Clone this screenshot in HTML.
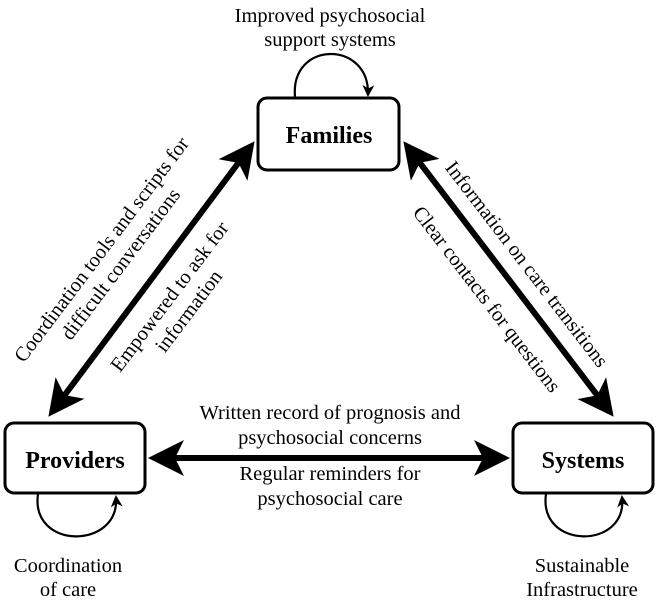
<!DOCTYPE html>
<html><head><meta charset="utf-8"><style>
html,body{margin:0;padding:0;background:#fff;}
svg{display:block;}
text{font-family:"Liberation Serif",serif;fill:#000;}
</style></head><body>
<svg width="656" height="607" viewBox="0 0 656 607" xmlns="http://www.w3.org/2000/svg">
<defs>
<marker id="big" markerWidth="6" markerHeight="6" refX="5" refY="3" orient="auto-start-reverse" markerUnits="strokeWidth">
<path d="M0,0 L6,3 L0,6 L1.5,3 z" fill="#000"/>
</marker>
<marker id="sm" markerWidth="12" markerHeight="12" refX="10" refY="6" orient="auto" markerUnits="userSpaceOnUse">
<path d="M0,0 L12,6 L0,12 L3.5,6 z" fill="#000"/>
</marker>
</defs>
<!-- boxes -->
<rect x="258" y="98" width="141" height="72" rx="9" fill="#fff" stroke="#000" stroke-width="3"/>
<rect x="5" y="423" width="140" height="70" rx="9" fill="#fff" stroke="#000" stroke-width="3"/>
<rect x="513" y="423" width="140" height="70" rx="9" fill="#fff" stroke="#000" stroke-width="3"/>
<text x="329" y="143" font-size="24" font-weight="bold" text-anchor="middle">Families</text>
<text x="75" y="468" font-size="24" font-weight="bold" text-anchor="middle">Providers</text>
<text x="583" y="468" font-size="24" font-weight="bold" text-anchor="middle">Systems</text>
<!-- main arrows -->
<line x1="52" y1="412" x2="251" y2="146" stroke="#000" stroke-width="6" marker-start="url(#big)" marker-end="url(#big)"/>
<line x1="407" y1="146" x2="610" y2="412" stroke="#000" stroke-width="6" marker-start="url(#big)" marker-end="url(#big)"/>
<line x1="154" y1="458" x2="504" y2="458" stroke="#000" stroke-width="6" marker-start="url(#big)" marker-end="url(#big)"/>
<!-- loops -->
<path d="M295,97 C290,40 370,40 368,95" fill="none" stroke="#000" stroke-width="2.2" marker-end="url(#sm)"/>
<path d="M38,494 C30,550 120,550 116,497" fill="none" stroke="#000" stroke-width="2.2" marker-end="url(#sm)"/>
<path d="M546,494 C538,550 628,550 622,497" fill="none" stroke="#000" stroke-width="2.2" marker-end="url(#sm)"/>
<!-- labels -->
<g font-size="20.5" text-anchor="middle">
<text x="330" y="22">Improved psychosocial</text>
<text x="330" y="46">support systems</text>
<text x="330" y="419">Written record of prognosis and</text>
<text x="330" y="444">psychosocial concerns</text>
<text x="330" y="480">Regular reminders for</text>
<text x="330" y="505">psychosocial care</text>
<text x="68" y="572">Coordination</text>
<text x="68" y="596">of care</text>
<text x="582" y="572">Sustainable</text>
<text x="582" y="596">Infrastructure</text>
<g transform="translate(110,256) rotate(-53)">
<text x="0" y="-4">Coordination tools and scripts for</text>
<text x="0" y="20">difficult conversations</text>
</g>
<g transform="translate(178,303) rotate(-53)">
<text x="0" y="-4">Empowered to ask for</text>
<text x="0" y="20">information</text>
</g>
<g transform="translate(527,264) rotate(52.5)">
<text x="0" y="7">Information on care transitions</text>
</g>
<g transform="translate(487,299) rotate(52.5)">
<text x="0" y="7">Clear contacts for questions</text>
</g>
</g>
</svg>
</body></html>
